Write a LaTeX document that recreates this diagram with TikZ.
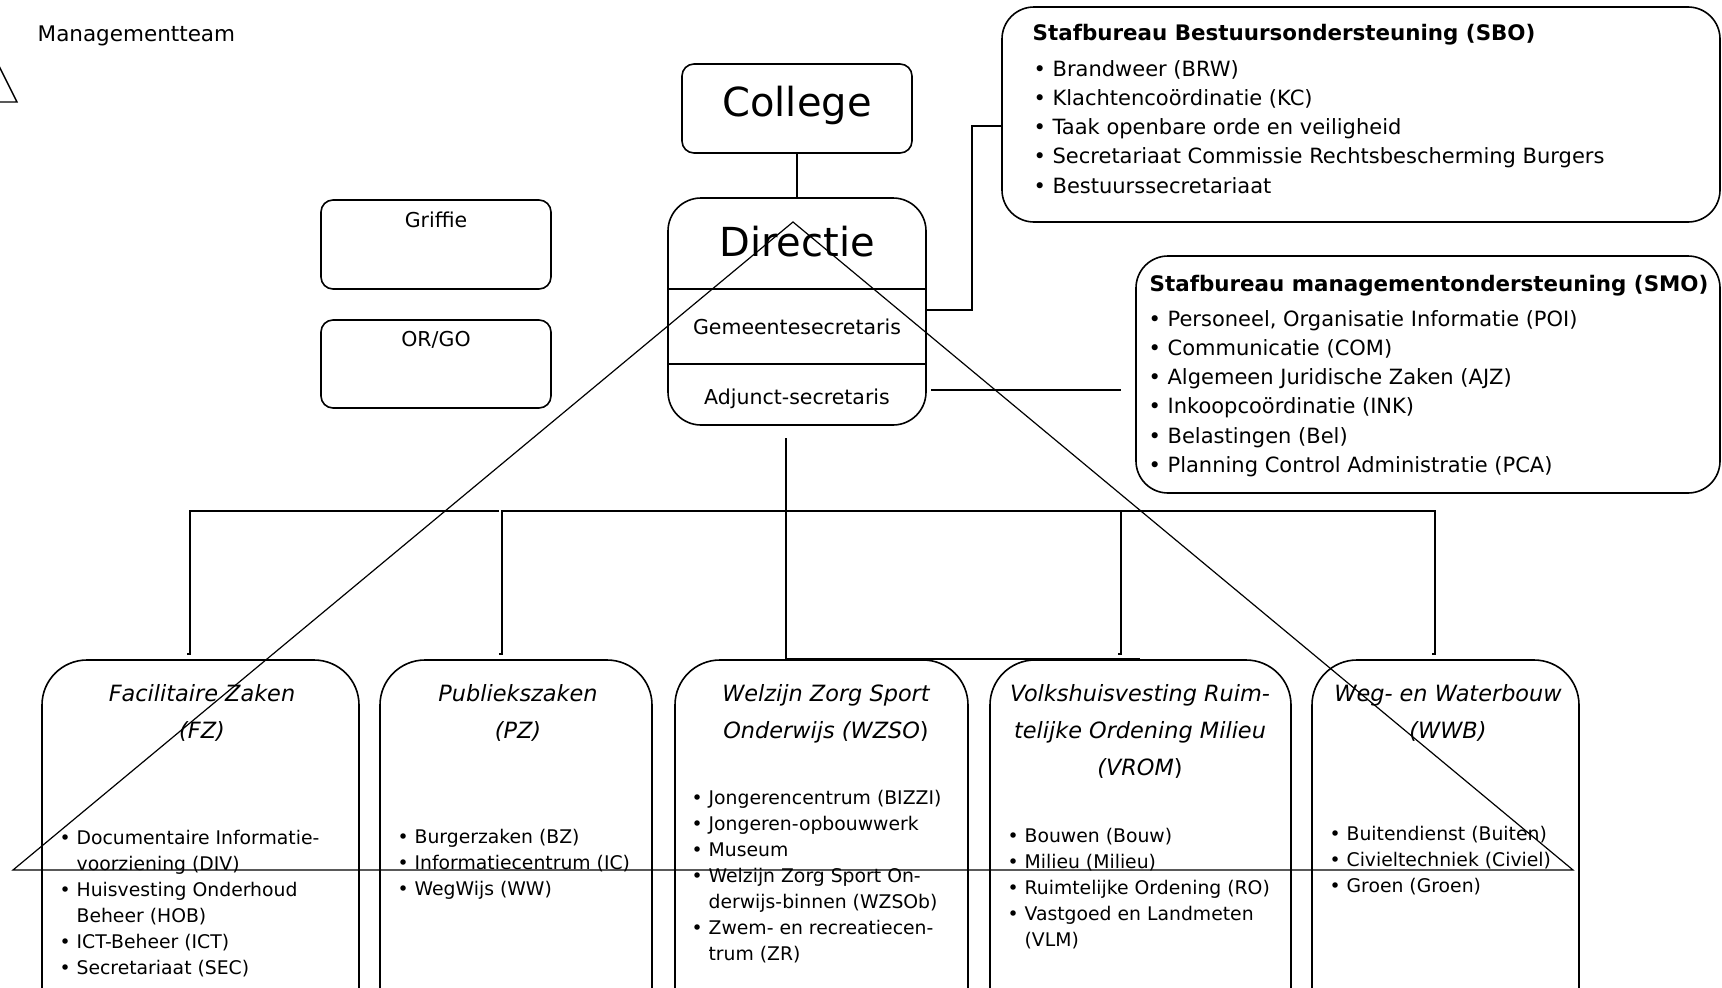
\documentclass[tikz,border=0pt]{standalone}
\usepackage{fontspec}
\setmainfont{DejaVu Sans}
\newcommand\itm{\makebox[0.9em][l]{\textbullet}}
\newcommand\cnt{\hspace*{0.9em}}

\begin{document}
\begin{tikzpicture}[x=1pt,y=-1pt,line width=1.4pt,
  rbox/.style={draw,line width=1.6pt,rounded corners=#1,inner sep=0pt},
  rbox/.default=12pt,
  unit/.style={rbox=45pt,minimum height=400pt},
  unittitle/.style={anchor=north,inner sep=0pt,align=center,font=\fontsize{22.4}{37}\selectfont\itshape},
  unitlist/.style={anchor=north west,inner sep=0pt,align=left,font=\fontsize{18.8}{26}\selectfont},
  stafftitle/.style={anchor=west,inner sep=0pt,font=\fontsize{21.4}{29}\selectfont\bfseries},
  stafflist/.style={anchor=north west,inner sep=0pt,align=left,font=\fontsize{21}{29.1}\selectfont},
  plain/.style={inner sep=0pt,font=\fontsize{20.5}{29}\selectfont}]
\clip (0,0) rectangle (1722,988);

\node[plain,anchor=west,font=\fontsize{21.5}{26}\selectfont] (mt) at (37,36) {Managementteam};
\draw (-17,34) -- (17,102) -- (-51,102) -- cycle;

% college en directie
\node[rbox,minimum width=230pt,minimum height=89pt] (college) at (797,108.5) {};
\node[plain,font=\fontsize{40}{48}\selectfont] (collegetxt) at (797,105) {College};
\node[rbox=33pt,minimum width=258pt,minimum height=227pt] (directie) at (797,311.5) {};
\draw[line width=1.6pt] (669,289) -- (926,289);
\draw[line width=1.6pt] (669,364) -- (926,364);
\node[plain,font=\fontsize{40}{48}\selectfont] (dirtxt) at (797,242) {Directie};
\node[plain] (gemsec) at (797,327) {Gemeentesecretaris};
\node[plain] (adjsec) at (797,399) {Adjunct-secretaris};
\draw (college) -- (directie);

\node[rbox,minimum width=230pt,minimum height=89pt] (griffie) at (436,244.5) {};
\node[plain] (griffietxt) at (436,220) {Griffie};
\node[rbox,minimum width=230pt,minimum height=88pt] (orgo) at (436,364) {};
\node[plain] (orgotxt) at (436,340) {OR/GO};

% stafbureaus
\node[rbox=32pt,minimum width=718pt,minimum height=215pt] (sbo) at (1361,114.5) {};
\node[stafftitle] (sbotitle) at (1032,35) {Stafbureau Bestuursondersteuning (SBO)};
\node[stafflist] (sbolist) at (1033,60) {\itm Brandweer (BRW)\\ \itm Klachtencoördinatie (KC)\\ \itm Taak openbare orde en veiligheid\\ \itm Secretariaat Commissie Rechtsbescherming Burgers\\ \itm Bestuurssecretariaat};
\node[rbox=32pt,minimum width=584pt,minimum height=237pt] (smo) at (1428,374.5) {};
\node[stafftitle] (smotitle) at (1149,286) {Stafbureau managementondersteuning (SMO)};
\node[stafflist] (smolist) at (1148,310) {\itm Personeel, Organisatie Informatie (POI)\\ \itm Communicatie (COM)\\ \itm Algemeen Juridische Zaken (AJZ)\\ \itm Inkoopcoördinatie (INK)\\ \itm Belastingen (Bel)\\ \itm Planning Control Administratie (PCA)};

\coordinate (sbofoot) at (927,310);
\coordinate (sbohead) at (1002,126);
\draw (sbofoot) -- ++(45,0) |- (sbohead);
\coordinate (smofoot) at (931,390);
\coordinate (smohead) at (1121,390);
\draw (smofoot) -- (smohead);

% afdelingen
\node[unit,minimum width=317pt] (fz) at (200.5,860) {};
\node[unit,minimum width=272pt] (pz) at (516,860) {};
\node[unit,minimum width=293pt] (wzso) at (821.5,860) {};
\node[unit,minimum width=301pt] (vrom) at (1140.5,860) {};
\node[unit,minimum width=267pt] (wwb) at (1445.5,860) {};

\node[unittitle] (fztitle) at (202,684) {Facilitaire Zaken\\(FZ)};
\node[unittitle] (pztitle) at (518,684) {Publiekszaken\\(PZ)};
\node[unittitle] (wzsotitle) at (826,684) {Welzijn Zorg Sport\\Onderwijs (WZSO{\upshape)}};
\node[unittitle] (vromtitle) at (1140,684) {Volkshuisvesting Ruim-\\telijke Ordening Milieu\\(VROM{\upshape)}};
\node[unittitle] (wwbtitle) at (1448,684) {Weg- en Waterbouw\\(WWB)};

\node[unitlist] (fzlist) at (59,830) {\itm Documentaire Informatie-\\ \cnt voorziening (DIV)\\ \itm Huisvesting Onderhoud\\ \cnt Beheer (HOB)\\ \itm ICT-Beheer (ICT)\\ \itm Secretariaat (SEC)};
\node[unitlist] (pzlist) at (397,829) {\itm Burgerzaken (BZ)\\ \itm Informatiecentrum (IC)\\ \itm WegWijs (WW)};
\node[unitlist] (wzsolist) at (691,790) {\itm Jongerencentrum (BIZZI)\\ \itm Jongeren-opbouwwerk\\ \itm Museum\\ \itm Welzijn Zorg Sport On-\\ \cnt derwijs-binnen (WZSOb)\\ \itm Zwem- en recreatiecen-\\ \cnt trum (ZR)};
\node[unitlist] (vromlist) at (1007,828) {\itm Bouwen (Bouw)\\ \itm Milieu (Milieu)\\ \itm Ruimtelijke Ordening (RO)\\ \itm Vastgoed en Landmeten\\ \cnt (VLM)};
\node[unitlist] (wwblist) at (1329,826) {\itm Buitendienst (Buiten)\\ \itm Civieltechniek (Civiel)\\ \itm Groen (Groen)};

% lijnen naar afdelingen
\coordinate (top) at (786,438);
\coordinate (busfz) at (190,654);
\coordinate (buspz) at (502,654);
\coordinate (busvrom) at (1121,654);
\coordinate (buswwb) at (1435,654);
\draw (busfz) ++(-3,0) -- (busfz) -- (190,511) -- (499,511);
\draw (buspz) ++(-3,0) -- (buspz) -- (502,511) -- (1435,511) -- (buswwb) -- ++(-3,0);
\draw (busvrom) ++(-3,0) -- (busvrom) -- (1121,511);
\draw (top) -- (786,659) -- (1140,659);

% driehoek
\draw[line width=1.2pt] (793,222) -- (13,870) -- (1573,870) -- cycle;
\end{tikzpicture}
\end{document}
